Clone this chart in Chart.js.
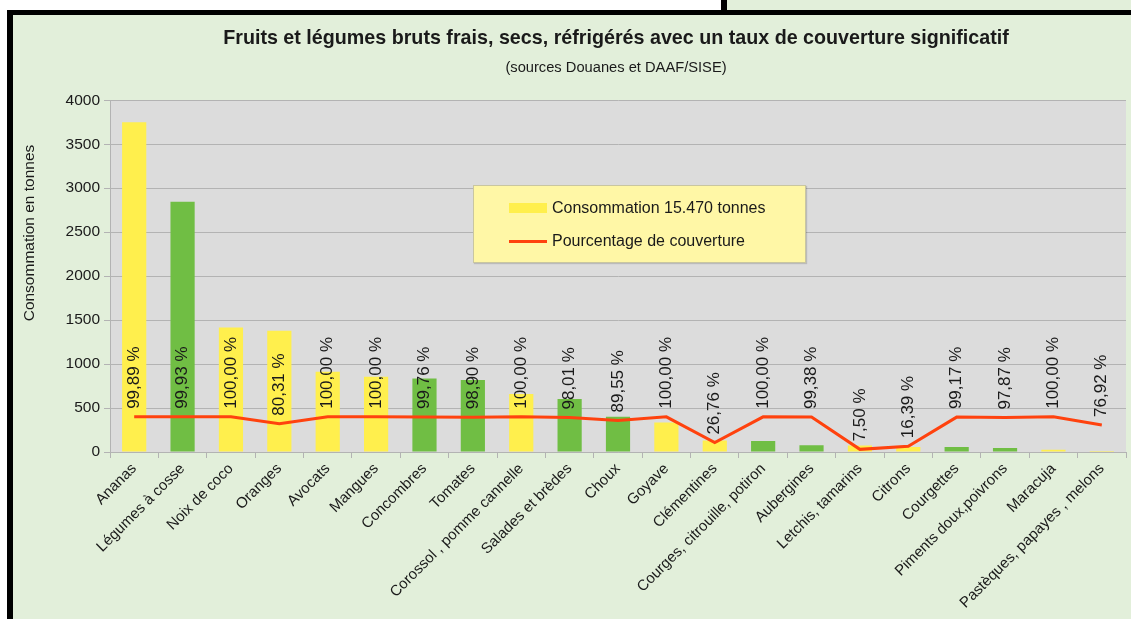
<!DOCTYPE html>
<html lang="fr">
<head>
<meta charset="utf-8">
<title>Fruits et légumes – taux de couverture</title>
<script src="https://cdn.jsdelivr.net/npm/chart.js@4.4.1/dist/chart.umd.min.js"></script>
<style>
    html, body {
        margin: 0;
        padding: 0;
        background: #ffffff;
        overflow: hidden;
        width: 1131px;
        height: 619px;
    }
    .frame {
        position: absolute;
        left: 7px;
        top: 10px;
        width: 1200px;
        height: 700px;
        border-left: 6px solid #000;
        border-top: 5px solid #000;
        background: #e2efda;
    }
    .topbox {
        position: absolute;
        left: 721px;
        top: -2px;
        width: 420px;
        height: 12px;
        border-left: 6px solid #000;
        background: #e2efda;
    }
    #chart {
        position: absolute;
        left: 13px;
        top: 15px;
    }
    #legend {
        position: absolute;
        left: 473px;
        top: 185px;
        width: 331px;
        height: 76px;
        background: #fff7a6;
        border: 1px solid #c9c6a0;
        box-shadow: 1px 1px 1px rgba(0, 0, 0, 0.15);
        font-family: "Liberation Sans", Arial, sans-serif;
        font-size: 16px;
        color: #1a1a1a;
    }
    .legend-item {
        position: absolute;
        left: 35px;
        height: 20px;
        display: flex;
        align-items: center;
    }
    .legend-swatch {
        width: 38px;
        margin-right: 5px;
    }
</style>
</head>
<body>
<div class="frame"></div>
<div class="topbox"></div>
<canvas id="chart" width="1206" height="700"></canvas>
<div id="legend"></div>

<script>
// Données (sources Douanes et DAAF/SISE)
const categories = [
    'Ananas', 'Légumes à cosse', 'Noix de coco', 'Oranges', 'Avocats', 'Mangues',
    'Concombres', 'Tomates', 'Corossol , pomme cannelle', 'Salades et brèdes', 'Choux',
    'Goyave', 'Clémentines', 'Courges, citrouille, potiron', 'Aubergines',
    'Letchis, tamarins', 'Citrons', 'Courgettes', 'Piments doux,poivrons', 'Maracuja',
    'Pastèques, papayes , melons'
];
// consommation en tonnes
const consommation = [3750, 2845, 1415, 1380, 913, 856, 837, 818, 659, 602, 400, 335, 130, 125, 77, 75, 57, 57, 45, 27, 12];
// taux de couverture en %
const couverture = [99.89, 99.93, 100.00, 80.31, 100.00, 100.00, 99.76, 98.90, 100.00, 98.01, 89.55,
    100.00, 26.76, 100.00, 99.38, 7.50, 16.39, 99.17, 97.87, 100.00, 76.92];
// fruit ou légume (donne la couleur de la barre)
const groupes = ['fruit', 'legume', 'fruit', 'fruit', 'fruit', 'fruit', 'legume', 'legume', 'fruit', 'legume', 'legume',
    'fruit', 'fruit', 'legume', 'legume', 'fruit', 'fruit', 'legume', 'legume', 'fruit', 'fruit'];
const yMax = 4000;
const yStep = 500;

const COLORS = {
    fruit: '#ffef4d',
    legume: '#70be44',
    line: '#ff420e',
    plot: '#dcdcdc',
    grid: '#b3b3b3',
    text: '#1a1a1a'
};
const FONT = '"Liberation Sans", Arial, sans-serif';

// Fond gris de la zone de tracé
const plotBackground = {
    id: 'plotBackground',
    beforeDraw(chart) {
        const { ctx, chartArea } = chart;
        ctx.save();
        ctx.fillStyle = COLORS.plot;
        ctx.fillRect(chartArea.left, chartArea.top, chartArea.right - chartArea.left, chartArea.bottom - chartArea.top);
        ctx.restore();
    }
};

// Étiquettes verticales "99,89 %" au-dessus de la courbe
const pctLabels = {
    id: 'pctLabels',
    afterDatasetsDraw(chart) {
        const ctx = chart.ctx;
        const ds = chart.data.datasets[1];
        const meta = chart.getDatasetMeta(1);
        ctx.save();
        ctx.font = '17px ' + FONT;
        ctx.fillStyle = COLORS.text;
        ctx.textAlign = 'left';
        ctx.textBaseline = 'middle';
        meta.data.forEach((pt, i) => {
            const txt = ds.data[i].toFixed(2).replace('.', ',') + ' %';
            ctx.save();
            ctx.translate(pt.x, pt.y - 8);
            ctx.rotate(-Math.PI / 2);
            ctx.fillText(txt, 0, 0);
            ctx.restore();
        });
        ctx.restore();
    }
};

// Titre de l'axe vertical (placé comme dans l'original, non centré sur l'axe)
const yTitle = {
    id: 'yTitle',
    afterDraw(chart) {
        const ctx = chart.ctx;
        ctx.save();
        ctx.font = '15.5px ' + FONT;
        ctx.fillStyle = COLORS.text;
        ctx.textAlign = 'center';
        ctx.textBaseline = 'middle';
        ctx.translate(17, 218);
        ctx.rotate(-Math.PI / 2);
        ctx.fillText('Consommation en tonnes', 0, 0);
        ctx.restore();
    }
};

document.addEventListener('DOMContentLoaded', function() {
    const ctx = document.getElementById('chart').getContext('2d');
    const chart = new Chart(ctx, {
        type: 'bar',
        data: {
            labels: categories,
            datasets: [
                {
                    type: 'bar',
                    label: 'Consommation 15.470 tonnes',
                    data: consommation,
                    backgroundColor: groupes.map(g => COLORS[g]),
                    categoryPercentage: 1,
                    barPercentage: 0.5,
                    yAxisID: 'y',
                    order: 2
                },
                {
                    type: 'line',
                    label: 'Pourcentage de couverture',
                    data: couverture,
                    borderColor: COLORS.line,
                    backgroundColor: COLORS.line,
                    borderWidth: 3,
                    pointRadius: 0,
                    tension: 0,
                    yAxisID: 'y1',
                    order: 1
                }
            ]
        },
        options: {
            responsive: false,
            animation: false,
            devicePixelRatio: 1,
            layout: { padding: 0 },
            plugins: {
                legend: { display: false },
                tooltip: { enabled: false },
                title: {
                    display: true,
                    text: 'Fruits et légumes bruts frais, secs, réfrigérés avec un taux de couverture significatif',
                    color: COLORS.text,
                    font: { family: FONT, size: 19.7, weight: 'bold' },
                    padding: { top: 12, bottom: 8 }
                },
                subtitle: {
                    display: true,
                    text: '(sources Douanes et DAAF/SISE)',
                    color: COLORS.text,
                    font: { family: FONT, size: 14.7 },
                    padding: { top: 0, bottom: 24 }
                }
            },
            scales: {
                x: {
                    grid: {
                        drawOnChartArea: false,
                        color: COLORS.grid,
                        tickLength: 6
                    },
                    border: { color: COLORS.grid },
                    ticks: {
                        autoSkip: false,
                        minRotation: 45,
                        maxRotation: 45,
                        padding: 2,
                        color: COLORS.text,
                        font: { family: FONT, size: 15 }
                    },
                    afterFit(scale) { scale.height = 263; }
                },
                y: {
                    min: 0,
                    max: yMax,
                    ticks: {
                        stepSize: yStep,
                        padding: 4,
                        color: COLORS.text,
                        font: { family: FONT, size: 15.5 },
                        callback: value => String(value)
                    },
                    grid: { color: COLORS.grid, tickLength: 6 },
                    border: { color: COLORS.grid },
                    afterFit(scale) { scale.width = 97; }
                },
                y1: {
                    position: 'right',
                    min: 0,
                    max: 1000,
                    ticks: { display: false },
                    grid: { display: false },
                    border: { display: false },
                    afterFit(scale) { scale.width = 93; }
                }
            }
        },
        plugins: [plotBackground, pctLabels, yTitle]
    });

    // Légende HTML placée dans la zone de tracé
    const legend = document.getElementById('legend');
    chart.data.datasets.forEach((ds, i) => {
        const item = document.createElement('div');
        item.className = 'legend-item';
        item.style.top = (i === 0 ? 12 : 45) + 'px';
        const sw = document.createElement('span');
        sw.className = 'legend-swatch';
        if (ds.type === 'line') {
            sw.style.height = '3px';
            sw.style.background = ds.borderColor;
        } else {
            sw.style.height = '10px';
            sw.style.background = COLORS.fruit;
        }
        const txt = document.createElement('span');
        txt.textContent = ds.label;
        item.appendChild(sw);
        item.appendChild(txt);
        legend.appendChild(item);
    });
});
</script>
</body>
</html>
